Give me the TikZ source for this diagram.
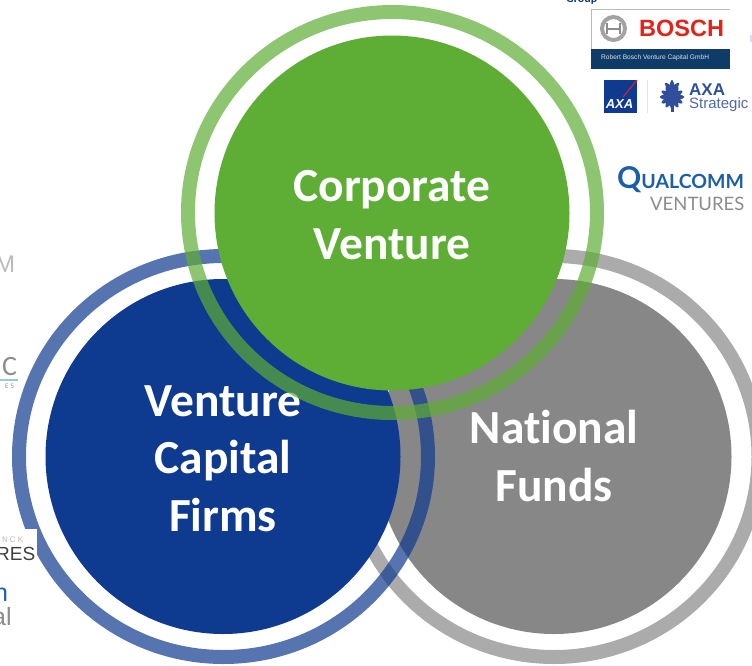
\documentclass[tikz,border=0pt]{standalone}
\usepackage{fontspec}
\setmainfont{Carlito}[Ligatures=NoCommon]
\newfontfamily\logofont{Liberation Sans}
\newfontfamily\quallogo{Lato}
\usetikzlibrary{shapes.geometric}

\begin{document}
\begin{tikzpicture}[x=1pt,y=-1pt,
		disc/.style={circle,inner sep=0pt,minimum size=355pt},
		disclabel/.style={inner sep=0pt,text=white,align=center,font=\fontsize{47.5}{57.5}\selectfont\bfseries},
		ring/.style={ellipse,draw,inner sep=0pt,line width=14pt,opacity=0.7,minimum width=409pt,minimum height=401pt},
		logotext/.style={inner sep=0pt,anchor=west}]
					\definecolor{cvgreen}{HTML}{5EAD35}
					\definecolor{vcblue}{HTML}{0E3A8F}
					\definecolor{fundgrey}{HTML}{878787}
					\definecolor{boschred}{HTML}{E2231A}
					\definecolor{boschblue}{HTML}{0F3B68}
					\definecolor{axablue}{HTML}{2F4F9B}
					\definecolor{qualblue}{HTML}{1A5FA8}
					\definecolor{logogrey}{HTML}{8C8C8C}
					\useasboundingbox (0,0) rectangle (752,665);
					\clip (0,0) rectangle (752,665);

					\node[logotext,text=boschblue,font=\fontsize{12}{12}\selectfont\bfseries] (grouplabel) at (566,0) {Group};
					\fill[boschblue] (591,49) rectangle (730,69);
					\draw[logogrey!60,line width=1pt] (730,9.5) -- (591.5,9.5) -- (591.5,49);
					\draw[logogrey!80,line width=4pt] (613.5,28.5) circle (11.5);
					\draw[logogrey,line width=2pt] (607,23) -- (607,34) (620,23) -- (620,34) (607,28.5) -- (620,28.5);
					\node[logotext,text=boschred,font=\logofont\fontsize{23.5}{23.5}\selectfont\bfseries] (boschname) at (639,28.5) {BOSCH};
					\node[logotext,text=white!85!boschblue,font=\logofont\fontsize{6.6}{7}\selectfont] (boschsub) at (601,58) {Robert Bosch Venture Capital GmbH};
					\fill[blue!15!white] (750,35) rectangle (752,42);

					\fill[vcblue] (604,80) rectangle (637,113);
					\draw[boschred,line width=1pt] (637,80) -- (623,97);
					\node[inner sep=0pt,text=white,font=\logofont\fontsize{13}{13}\selectfont\bfseries\itshape] (axasquare) at (619.5,104) {AXA};
					\draw[blue!12!white,line width=1.5pt] (647.5,80) -- (647.5,113);
					\foreach \a in {0,30,...,180}
						\fill[axablue,rotate around={-\a:(672,97)}] (672,97) ellipse (12 and 3);
					\foreach \a in {45,90,135}
						\fill[axablue,rotate around={-\a:(672,90)}] (672,90) ellipse (10 and 2.5);
					\fill[axablue] (670.5,97) rectangle (673.5,112);
					\node[logotext,text=axablue,font=\logofont\fontsize{17}{17}\selectfont\bfseries] (axaname) at (689,90) {AXA};
					\node[logotext,text=axablue!85!white,font=\logofont\fontsize{15}{15}\selectfont] (axasub) at (689,105) {Strategic V};

					\node[logotext,text=qualblue,font=\quallogo\fontsize{30}{30}\selectfont\bfseries] (qualname) at (617,180) {Q\fontsize{19.5}{19.5}\selectfont UALCOMM};
					\node[logotext,text=logogrey,font=\quallogo\fontsize{18.5}{18.5}\selectfont] (qualsub) at (650,203.5) {VENTURES};

					\node[logotext,text=logogrey!60,font=\logofont\fontsize{24}{24}\selectfont] (leftm) at (-5,264) {M};
					\node[logotext,text=logogrey,font=\fontsize{28}{28}\selectfont\rmfamily] (leftc) at (2,367) {C};
					\fill[teal!40!white] (0,378.5) rectangle (18,380.5);
					\node[logotext,text=logogrey,font=\fontsize{7}{7}\selectfont] (lefte) at (5,386) {E\hspace{2pt}S};

					\node[ring,draw=fundgrey] (fundring) at (554,456.5) {};
					\node[disc,fill=fundgrey] (funddisc) at (554,456.5) {};
					\node[disclabel] (fundlabel) at (554,456) {National\\Funds};
					\node[disc,fill=vcblue] (vcdisc) at (223,456.5) {};
					\node[disclabel] (vclabel) at (223,458.5) {Venture\\Capital\\Firms};
					\node[ring,draw=vcblue] (vcring) at (223.5,456.5) {};
					\node[disc,fill=cvgreen] (cvdisc) at (392,213) {};
					\node[disclabel] (cvlabel) at (392,215) {Corporate\\Venture};
					\node[ring,draw=cvgreen] (cvring) at (392.5,212.5) {};

					\fill[white] (0,529) rectangle (37,562);
					\node[logotext,text=logogrey!60,font=\logofont\fontsize{8}{8}\selectfont] (leftnck) at (2,540) {N\hspace{2pt}C\hspace{2pt}K};
					\node[logotext,text=black!75,font=\logofont\fontsize{19}{19}\selectfont] (leftres) at (-4,554) {RES};
					\node[logotext,text=qualblue,font=\logofont\fontsize{25}{25}\selectfont] (leftn) at (-6,595) {n};
					\node[logotext,text=logogrey,font=\logofont\fontsize{25}{25}\selectfont] (leftal) at (-8,617) {al};
\end{tikzpicture}
\end{document}
